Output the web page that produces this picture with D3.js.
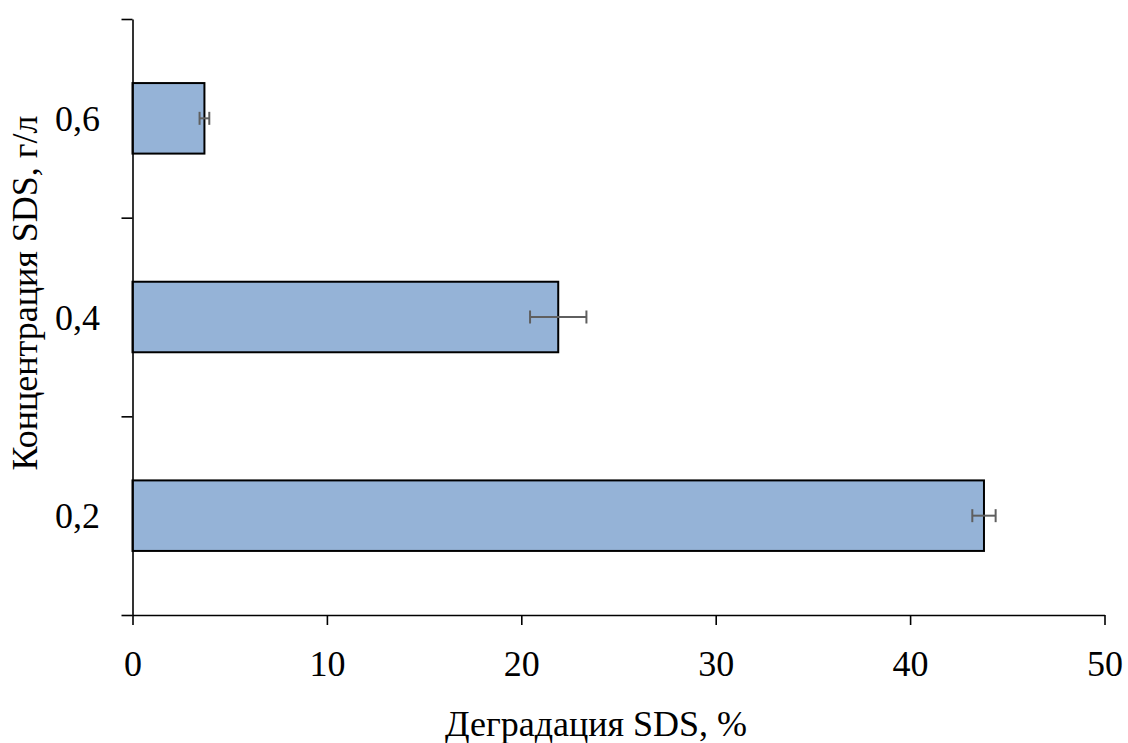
<!DOCTYPE html>
<html>
<head>
<meta charset="utf-8">
<script src="https://cdn.jsdelivr.net/npm/d3@7"></script>
<style>
  html, body { margin: 0; padding: 0; background: #fff; }
  svg text { font-family: "Liberation Serif", "Times New Roman", serif; fill: #000; }
</style>
</head>
<body>
<svg id="chart" width="1128" height="743"></svg>
<script>
// SDS concentration, g/L (bottom to top)
const categories = ["0,2", "0,4", "0,6"];
// SDS degradation, %
const degradation = [43.8, 21.9, 3.7];
// error half-widths, %
const errors = [0.6, 1.45, 0.25];
const xTicks = [0, 10, 20, 30, 40, 50];

const FONT = 36;
const svg = d3.select("#chart");
const plotLeft = 132.5, plotRight = 1104.5, plotTop = 19, plotBottom = 615;

const x = d3.scaleLinear().domain([0, 50]).range([plotLeft, plotRight]);
const y = d3.scaleBand()
  .domain(categories.slice().reverse())
  .range([plotTop, plotBottom])
  .paddingInner(0.645)
  .paddingOuter(0.3225);
const yBounds = d3.scaleLinear().domain([0, categories.length]).range([plotBottom, plotTop]);

const data = categories.map((c, i) => ({ c, v: degradation[i], e: errors[i] }));

// bars
svg.append("g").selectAll("rect").data(data).join("rect")
  .attr("x", x(0))
  .attr("y", d => y(d.c))
  .attr("width", d => x(d.v) - x(0))
  .attr("height", y.bandwidth())
  .attr("fill", "#95b3d7")
  .attr("stroke", "#000")
  .attr("stroke-width", 2);

// error bars
const eb = svg.append("g").attr("stroke", "#5f5f5f").attr("stroke-width", 2);
data.forEach(d => {
  const cy = y(d.c) + y.bandwidth() / 2;
  eb.append("line").attr("x1", x(d.v - d.e)).attr("x2", x(d.v + d.e)).attr("y1", cy).attr("y2", cy);
  eb.append("line").attr("x1", x(d.v - d.e)).attr("x2", x(d.v - d.e)).attr("y1", cy - 6.5).attr("y2", cy + 6.5);
  eb.append("line").attr("x1", x(d.v + d.e)).attr("x2", x(d.v + d.e)).attr("y1", cy - 6.5).attr("y2", cy + 6.5);
});

// x axis
const xAxis = svg.append("g")
  .attr("transform", `translate(0,${plotBottom})`)
  .call(d3.axisBottom(x).tickValues(xTicks).tickSize(10).tickSizeOuter(0).tickPadding(25).tickFormat(d3.format("d")));
xAxis.select(".domain").attr("stroke", "#000").attr("stroke-width", 1.6);
xAxis.selectAll(".tick line").attr("stroke", "#000").attr("stroke-width", 1.6);
xAxis.selectAll(".tick text").attr("font-size", FONT).attr("fill", "#000");

// y axis: boundary ticks between categories
const yAxis = svg.append("g")
  .attr("transform", `translate(${plotLeft},0)`)
  .call(d3.axisLeft(yBounds).tickValues(d3.range(categories.length + 1)).tickSize(11).tickSizeOuter(0).tickFormat(""));
yAxis.select(".domain").attr("stroke", "#000").attr("stroke-width", 1.6);
yAxis.selectAll(".tick line").attr("stroke", "#000").attr("stroke-width", 1.6);

// y category labels
svg.append("g").selectAll("text").data(categories).join("text")
  .attr("x", 100)
  .attr("y", d => y(d) + y.bandwidth() / 2)
  .attr("dy", "0.35em")
  .attr("text-anchor", "end")
  .attr("font-size", FONT)
  .text(d => d);

// axis titles
svg.append("text")
  .attr("x", 596).attr("y", 736)
  .attr("text-anchor", "middle")
  .attr("font-size", FONT)
  .text("Деградация SDS, %");

svg.append("text")
  .attr("transform", "translate(37,293) rotate(-90)")
  .attr("text-anchor", "middle")
  .attr("font-size", FONT)
  .text("Концентрация SDS, г/л");
</script>
</body>
</html>
